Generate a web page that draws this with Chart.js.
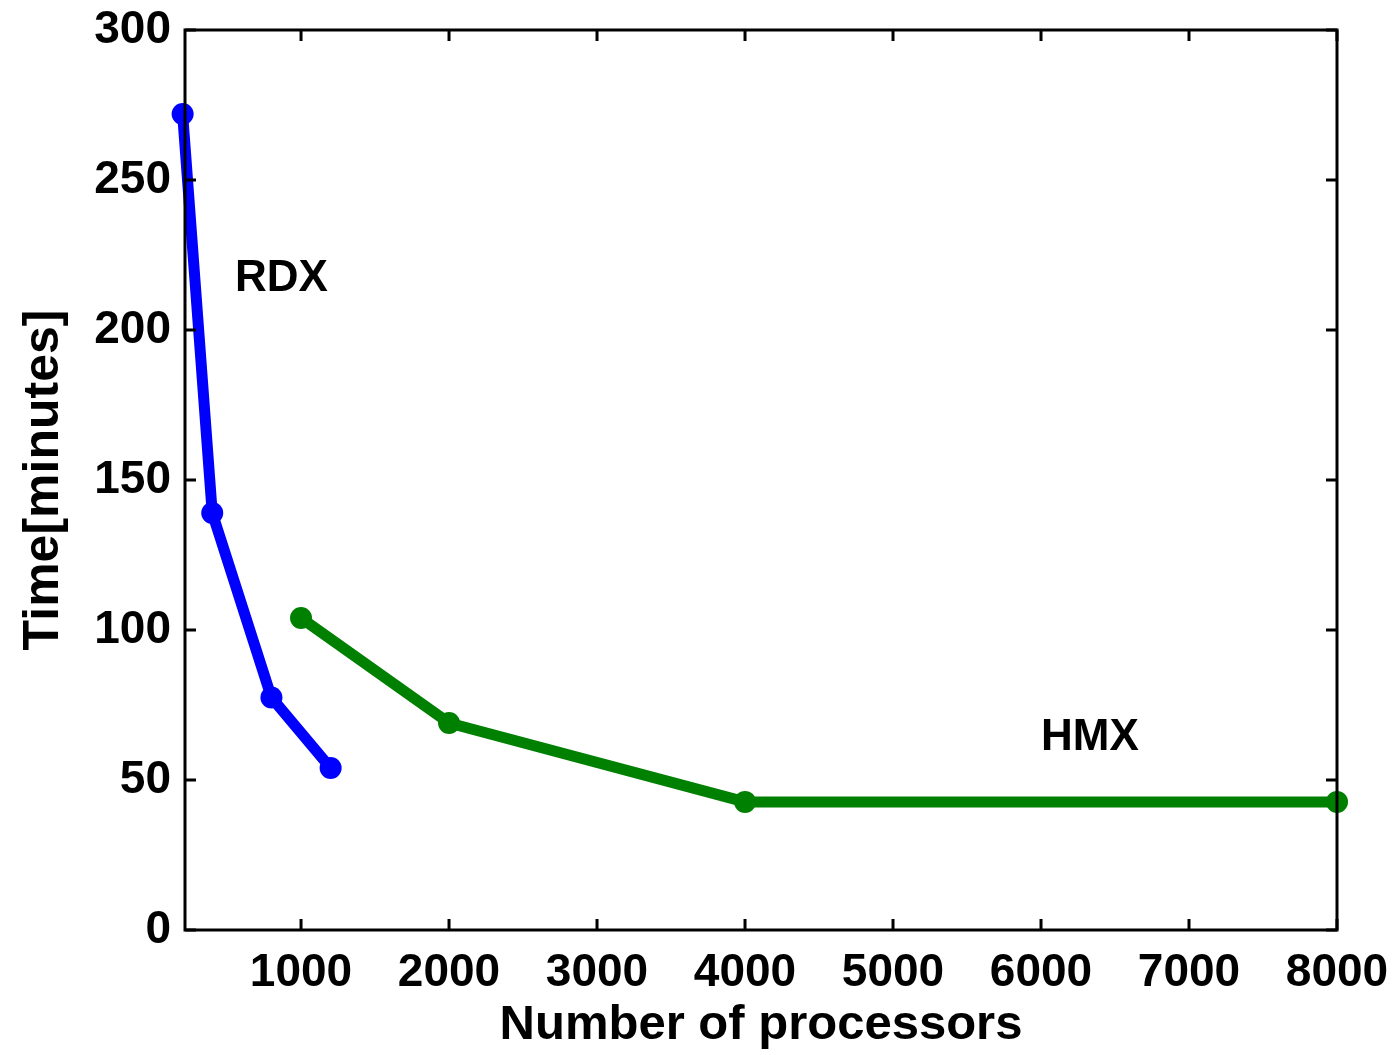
<!DOCTYPE html>
<html>
<head>
<meta charset="utf-8">
<script src="https://cdn.jsdelivr.net/npm/chart.js@4/dist/chart.umd.min.js"></script>
<style>
html,body{margin:0;padding:0;background:#fff;}
#wrap{width:1400px;height:1055px;}
</style>
</head>
<body>
<div id="wrap"><canvas id="c" width="1400" height="1055"></canvas></div>
<script>
const rdxX = [200, 400, 800, 1200];
const rdxY = [272, 139, 77.5, 54];
const hmxX = [1000, 2000, 4000, 8000];
const hmxY = [104, 69, 42.7, 42.7];
const xTicks = [1000, 2000, 3000, 4000, 5000, 6000, 7000, 8000];
const yTicks = [0, 50, 100, 150, 200, 250, 300];
const xTitle = 'Number of processors';
const yTitle = 'Time[minutes]';
const labels = [{text:'RDX', x:554, y:217}, {text:'HMX', x:6000, y:64}];

const FONT = '"Liberation Sans", Arial, Helvetica, sans-serif';

const boxPlugin = {
  id: 'box',
  afterDatasetsDraw(chart) {
    const {ctx, chartArea: a, scales} = chart;
    ctx.save();
    ctx.strokeStyle = '#000';
    ctx.lineWidth = 3;
    ctx.strokeRect(a.left, a.top, a.right - a.left, a.bottom - a.top);
    const tl = 11;
    ctx.beginPath();
    scales.x.ticks.forEach(t => {
      const px = scales.x.getPixelForValue(t.value);
      ctx.moveTo(px, a.bottom); ctx.lineTo(px, a.bottom - tl);
      ctx.moveTo(px, a.top); ctx.lineTo(px, a.top + tl);
    });
    scales.y.ticks.forEach(t => {
      const py = scales.y.getPixelForValue(t.value);
      ctx.moveTo(a.left, py); ctx.lineTo(a.left + tl, py);
      ctx.moveTo(a.right, py); ctx.lineTo(a.right - tl, py);
    });
    ctx.stroke();
    ctx.fillStyle = '#000';
    ctx.font = 'bold 44px ' + FONT;
    ctx.textBaseline = 'middle';
    ctx.textAlign = 'left';
    labels.forEach(l => {
      ctx.fillText(l.text, scales.x.getPixelForValue(l.x), scales.y.getPixelForValue(l.y));
    });
    ctx.restore();
  }
};

new Chart(document.getElementById('c'), {
  type: 'line',
  data: {
    datasets: [
      {label:'RDX', data: rdxX.map((x,i)=>({x, y: rdxY[i]})), borderColor:'#0000ff', backgroundColor:'#0000ff',
       borderWidth:11, pointRadius:11, pointBorderWidth:0, pointBackgroundColor:'#0000ff', clip:false, tension:0},
      {label:'HMX', data: hmxX.map((x,i)=>({x, y: hmxY[i]})), borderColor:'#008000', backgroundColor:'#008000',
       borderWidth:11, pointRadius:11, pointBorderWidth:0, pointBackgroundColor:'#008000', clip:false, tension:0}
    ]
  },
  options: {
    responsive: false,
    animation: false,
    devicePixelRatio: 1,
    layout: {padding: {left:0, right:63, top:30, bottom:0}},
    plugins: {legend:{display:false}, tooltip:{enabled:false}},
    scales: {
      x: {
        type: 'linear', min: 216, max: 8000,
        afterBuildTicks: s => { s.ticks = xTicks.map(v => ({value:v})); },
        afterFit: s => { s.height = 125; s.paddingLeft = 0; s.paddingRight = 0; },
        grid: {display:false, drawTicks:false},
        border: {display:false},
        ticks: {color:'#000', font:{family:FONT, size:46, weight:'bold'}, padding:16, maxRotation:0, autoSkip:false,
                callback: v => String(v)},
        title: {display:true, text:xTitle, color:'#000', font:{family:FONT, size:49, weight:'bold'}, padding:{top:0,bottom:0}}
      },
      y: {
        type: 'linear', min: 0, max: 300,
        afterBuildTicks: s => { s.ticks = yTicks.map(v => ({value:v})); },
        afterFit: s => { s.width = 185; s.paddingTop = 0; s.paddingBottom = 0; },
        grid: {display:false, drawTicks:false},
        border: {display:false},
        ticks: {color:'#000', font:{family:FONT, size:46, weight:'bold'}, padding:14, autoSkip:false,
                callback: v => String(v)},
        title: {display:true, text:yTitle, color:'#000', font:{family:FONT, size:50, weight:'bold'}, padding:{top:14,bottom:0}}
      }
    }
  },
  plugins: [boxPlugin]
});
</script>
</body>
</html>
